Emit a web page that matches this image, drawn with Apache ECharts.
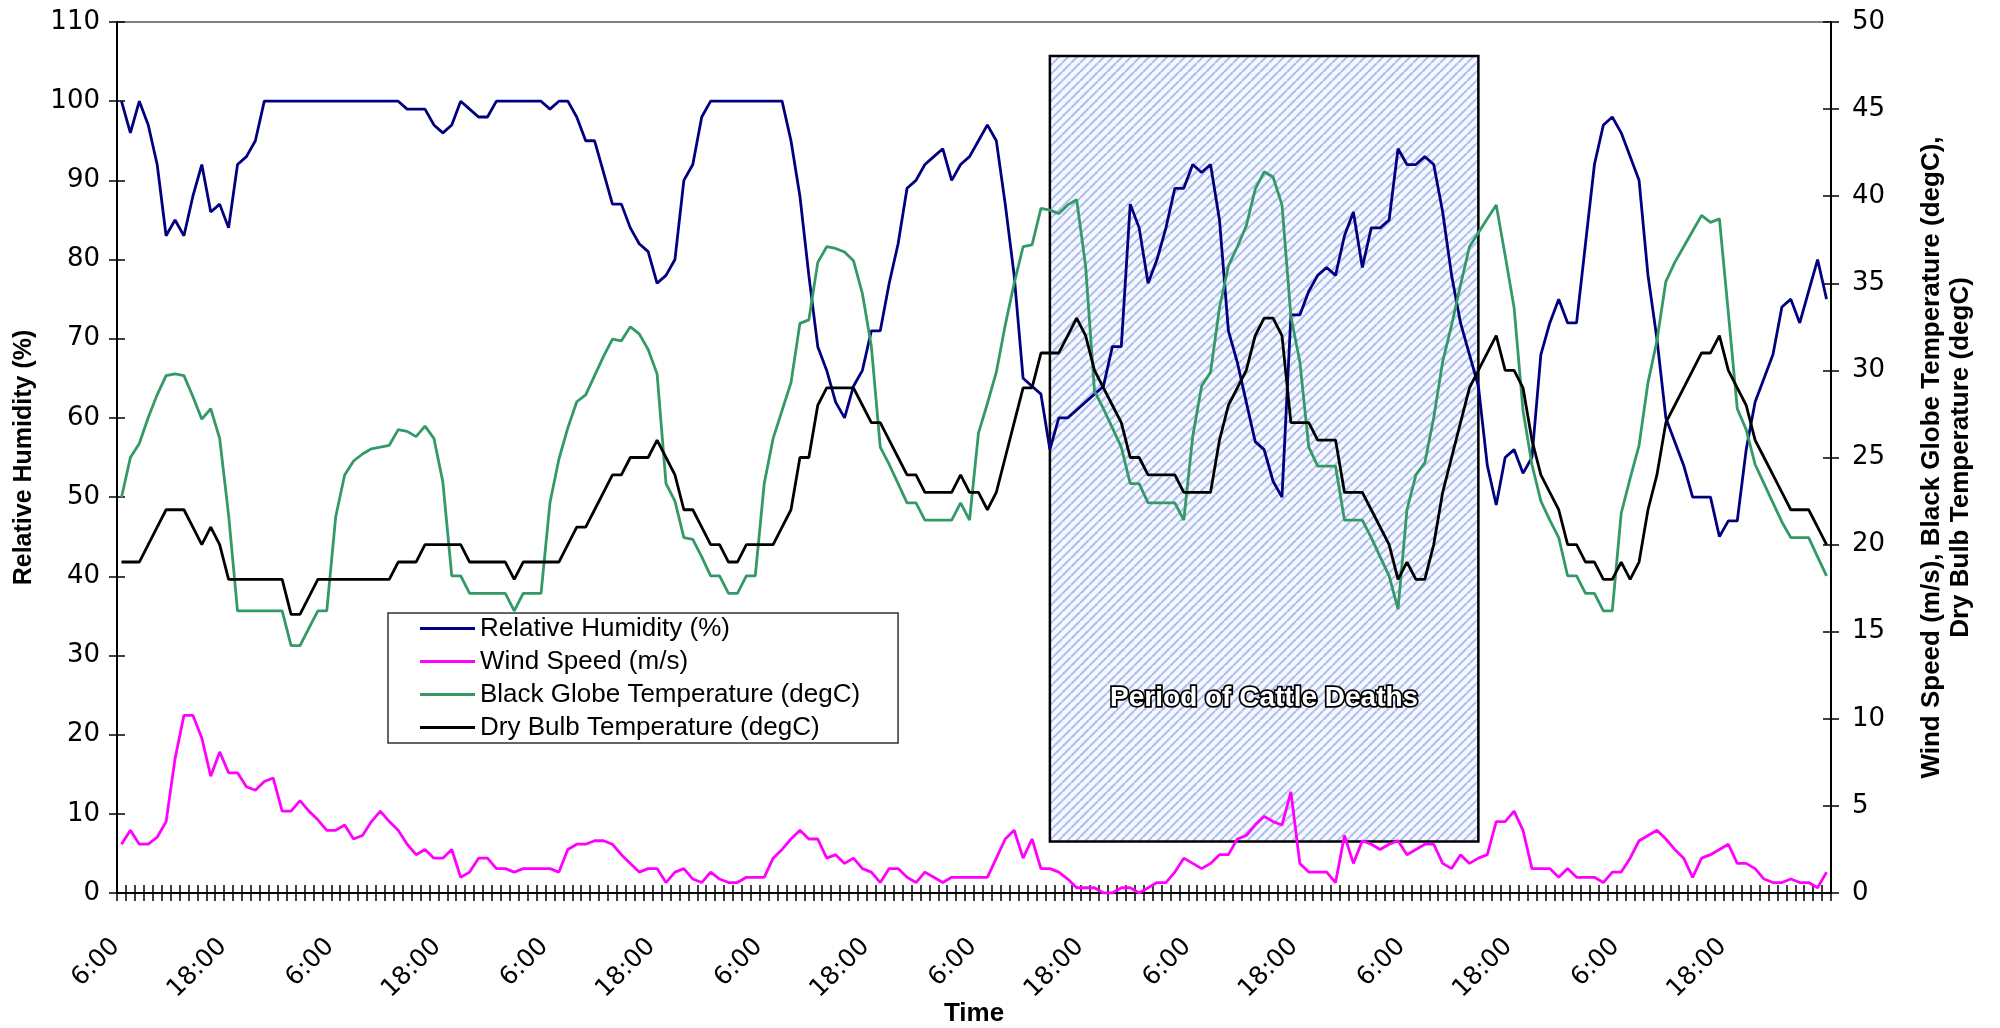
<!DOCTYPE html>
<html>
<head>
<meta charset="utf-8">
<script src="https://cdn.jsdelivr.net/npm/echarts@6/dist/echarts.min.js"></script>
<style>
html,body{margin:0;padding:0;background:#fff;}
#chart{width:2000px;height:1028px;}
</style>
</head>
<body>
<div id="chart"></div>
<script>
// ---- data (hourly readings starting at 6:00) ----
const START_HOUR = 6;
const N_HOURS = 192;
const hours = [];
for (let i = 0; i < N_HOURS; i++) hours.push(((START_HOUR + i) % 24) + ':00');

const relativeHumidity = [
100,96,100,97,92,83,85,83,88,92,86,87,84,92,93,95,100,100,100,100,
100,100,100,100,100,100,100,100,100,100,100,100,99,99,99,97,96,97,100,99,
98,98,100,100,100,100,100,100,99,100,100,98,95,95,91,87,87,84,82,81,
77,78,80,90,92,98,100,100,100,100,100,100,100,100,100,95,88,78,69,66,
62,60,64,66,71,71,77,82,89,90,92,93,94,90,92,93,95,97,95,87,
78,65,64,63,56,60,60,61,62,63,64,69,69,87,84,77,80,84,89,89,
92,91,92,85,71,67,62,57,56,52,50,73,73,76,78,79,78,83,86,79,
84,84,85,94,92,92,93,92,86,78,72,68,64,54,49,55,56,53,55,68,
72,75,72,72,82,92,97,98,96,93,90,78,70,60,57,54,50,50,50,45,
47,47,56,62,65,68,74,75,72,76,80,75];

const windSpeed = [
2.8,3.6,2.8,2.8,3.2,4.1,7.7,10.2,10.2,8.9,6.7,8.1,6.9,6.9,6.1,5.9,6.4,6.6,4.7,4.7,
5.3,4.7,4.2,3.6,3.6,3.9,3.1,3.3,4.1,4.7,4.1,3.6,2.8,2.2,2.5,2.0,2.0,2.5,0.9,1.2,
2.0,2.0,1.4,1.4,1.2,1.4,1.4,1.4,1.4,1.2,2.5,2.8,2.8,3.0,3.0,2.8,2.2,1.7,1.2,1.4,
1.4,0.6,1.2,1.4,0.8,0.6,1.2,0.8,0.6,0.6,0.9,0.9,0.9,2.0,2.5,3.1,3.6,3.1,3.1,2.0,
2.2,1.7,2.0,1.4,1.2,0.6,1.4,1.4,0.9,0.6,1.2,0.9,0.6,0.9,0.9,0.9,0.9,0.9,2.0,3.1,
3.6,2.0,3.1,1.4,1.4,1.2,0.8,0.3,0.3,0.3,0.0,0.0,0.3,0.3,0.0,0.3,0.6,0.6,1.2,2.0,
1.7,1.4,1.7,2.2,2.2,3.1,3.3,3.9,4.4,4.1,3.9,5.8,1.7,1.2,1.2,1.2,0.6,3.3,1.7,3.0,
2.8,2.5,2.8,3.0,2.2,2.5,2.8,2.8,1.7,1.4,2.2,1.7,2.0,2.2,4.1,4.1,4.7,3.6,1.4,1.4,
1.4,0.9,1.4,0.9,0.9,0.9,0.6,1.2,1.2,2.0,3.0,3.3,3.6,3.1,2.5,2.0,0.9,2.0,2.2,2.5,
2.8,1.7,1.7,1.4,0.8,0.6,0.6,0.8,0.6,0.6,0.3,1.2];

const blackGlobeTemp = [
22.7,25.0,25.8,27.3,28.6,29.7,29.8,29.7,28.5,27.2,27.8,26.1,21.7,16.2,16.2,16.2,16.2,16.2,16.2,14.2,
14.2,15.2,16.2,16.2,21.6,24.0,24.8,25.2,25.5,25.6,25.7,26.6,26.5,26.2,26.8,26.1,23.6,18.2,18.2,17.2,
17.2,17.2,17.2,17.2,16.2,17.2,17.2,17.2,22.4,24.9,26.7,28.2,28.6,29.7,30.8,31.8,31.7,32.5,32.1,31.2,
29.8,23.5,22.5,20.4,20.3,19.3,18.2,18.2,17.2,17.2,18.2,18.2,23.5,26.1,27.7,29.3,32.7,32.9,36.2,37.1,
37.0,36.8,36.3,34.4,31.4,25.6,24.6,23.5,22.4,22.4,21.4,21.4,21.4,21.4,22.4,21.4,26.4,28.1,29.9,32.6,
35.0,37.1,37.2,39.3,39.2,39.0,39.5,39.8,36.0,28.8,27.8,26.7,25.6,23.5,23.5,22.4,22.4,22.4,22.4,21.4,
26.2,29.1,29.9,33.6,36.0,37.1,38.3,40.4,41.4,41.1,39.5,33.1,30.5,25.6,24.5,24.5,24.5,21.4,21.4,21.4,
20.4,19.3,18.2,16.3,22.0,24.0,24.7,27.3,30.5,32.6,34.9,37.1,37.9,38.7,39.5,36.6,33.6,27.7,24.6,22.5,
21.4,20.4,18.2,18.2,17.2,17.2,16.2,16.2,21.8,23.8,25.7,29.3,31.7,35.1,36.2,37.1,38.0,38.9,38.5,38.7,
33.3,27.8,26.6,24.6,23.5,22.4,21.3,20.4,20.4,20.4,19.3,18.2];

const dryBulbTemp = [
19,19,19,20,21,22,22,22,21,20,21,20,18,18,18,18,18,18,18,16,
16,17,18,18,18,18,18,18,18,18,18,19,19,19,20,20,20,20,20,19,
19,19,19,19,18,19,19,19,19,19,20,21,21,22,23,24,24,25,25,25,
26,25,24,22,22,21,20,20,19,19,20,20,20,20,21,22,25,25,28,29,
29,29,29,28,27,27,26,25,24,24,23,23,23,23,24,23,23,22,23,25,
27,29,29,31,31,31,32,33,32,30,29,28,27,25,25,24,24,24,24,23,
23,23,23,26,28,29,30,32,33,33,32,27,27,27,26,26,26,23,23,23,
22,21,20,18,19,18,18,20,23,25,27,29,30,31,32,30,30,29,26,24,
23,22,20,20,19,19,18,18,19,18,19,22,24,27,28,29,30,31,31,32,
30,29,28,26,25,24,23,22,22,22,21,20];

const seriesNames = ['Relative Humidity (%)', 'Wind Speed (m/s)', 'Black Globe Temperature (degC)', 'Dry Bulb Temperature (degC)'];
const seriesColors = ['#000080', '#FF00FF', '#339966', '#000000'];
// cattle-death period: category indices and vertical extent on the humidity axis
const deathPeriod = { fromIndex: 104, toIndex: 152, top: 105.7, bottom: 6.5, label: 'Period of Cattle Deaths' };

function hatchPattern() {
  const s = 9;
  const c = document.createElement('canvas');
  c.width = s; c.height = s;
  const g = c.getContext('2d');
  g.fillStyle = '#f6f8fe';
  g.fillRect(0, 0, s, s);
  g.strokeStyle = '#adc0f1';
  g.lineWidth = 2.2;
  g.beginPath();
  for (const o of [-s, 0, s]) { g.moveTo(o, s); g.lineTo(o + s, 0); }
  g.stroke();
  return c;
}

const FONT = 'Liberation Sans, Arial, sans-serif';
const TICK_FONT = 'DejaVu Sans, Verdana, sans-serif';
const chart = echarts.init(document.getElementById('chart'), null, { renderer: 'canvas' });

const tickStyle = { color: '#000', width: 1.5 };
const lineW = 2.8;

const option = {
  animation: false,
  backgroundColor: '#fff',
  textStyle: { fontFamily: FONT },
  grid: {
    left: 117, right: 169, top: 22, bottom: 135,
    containLabel: false, outerBoundsMode: 'none',
    show: true, borderColor: '#808080', borderWidth: 2, backgroundColor: 'transparent'
  },
  legend: {
    left: 388, top: 613, orient: 'vertical',
    backgroundColor: '#fff', borderColor: '#333', borderWidth: 1.5,
    padding: [0, 38, 0, 32],
    icon: 'rect',
    itemWidth: 55, itemHeight: 3, itemGap: 2, itemTextGap: 6,
    textStyle: { fontFamily: FONT, fontSize: 26, color: '#000', lineHeight: 31 },
    data: seriesNames
  },
  xAxis: [
    {
      type: 'category', data: hours, boundaryGap: true, position: 'bottom',
      axisLine: { onZero: false, lineStyle: { color: '#000', width: 2 } },
      axisTick: { show: true, interval: 0, inside: false, length: 8, lineStyle: tickStyle },
      axisLabel: { interval: 11, rotate: 45, fontSize: 25, margin: 44, padding: [0, 8, 0, 0], color: '#000', fontFamily: TICK_FONT },
      splitLine: { show: false },
      name: 'Time', nameLocation: 'middle', nameGap: 108, nameMoveOverlap: false,
      nameTextStyle: { fontSize: 26, fontWeight: 'bold', color: '#000', fontFamily: FONT }
    },
    {
      type: 'category', data: hours, boundaryGap: true, position: 'bottom',
      axisLine: { show: false, onZero: false },
      axisTick: { show: true, interval: 0, inside: true, length: 8, lineStyle: tickStyle },
      axisLabel: { show: false }, splitLine: { show: false }
    }
  ],
  yAxis: [
    {
      type: 'value', min: 0, max: 110, interval: 10, position: 'left',
      axisLine: { show: true, lineStyle: { color: '#000', width: 2 } },
      axisTick: { show: true, inside: false, length: 8, lineStyle: tickStyle },
      axisLabel: { fontSize: 26, margin: 17, color: '#000', fontFamily: TICK_FONT },
      splitLine: { show: false },
      name: 'Relative Humidity (%)', nameLocation: 'middle', nameGap: 80, nameMoveOverlap: false,
      nameTextStyle: { fontSize: 25, fontWeight: 'bold', color: '#000', fontFamily: FONT }
    },
    {
      type: 'value', min: 0, max: 50, interval: 5, position: 'right',
      axisLine: { show: true, lineStyle: { color: '#000', width: 2 } },
      axisTick: { show: true, inside: false, length: 8, lineStyle: tickStyle },
      axisLabel: { fontSize: 26, margin: 21, color: '#000', fontFamily: TICK_FONT },
      splitLine: { show: false },
      name: 'Wind Speed (m/s), Black Globe Temperature (degC),\nDry Bulb Temperature (degC)',
      nameLocation: 'middle', nameGap: 86, nameMoveOverlap: false,
      nameTextStyle: { fontSize: 26, fontWeight: 'bold', color: '#000', fontFamily: FONT, lineHeight: 29, align: 'center' }
    },
    {
      type: 'value', min: 0, max: 110, interval: 10, position: 'left',
      axisLine: { show: false }, axisLabel: { show: false }, splitLine: { show: false },
      axisTick: { show: true, inside: true, length: 8, lineStyle: tickStyle }
    },
    {
      type: 'value', min: 0, max: 50, interval: 5, position: 'right',
      axisLine: { show: false }, axisLabel: { show: false }, splitLine: { show: false },
      axisTick: { show: true, inside: true, length: 8, lineStyle: tickStyle }
    }
  ],
  series: [
    {
      name: seriesNames[0], type: 'line', yAxisIndex: 0, data: relativeHumidity,
      symbol: 'none', lineStyle: { color: seriesColors[0], width: lineW }, itemStyle: { color: seriesColors[0] },
      z: 5,
      markArea: {
        silent: true,
        z: 1,
        itemStyle: { color: { image: hatchPattern(), repeat: 'repeat' }, borderColor: '#000', borderWidth: 2.5 },
        label: {
          show: true, position: ['50%', '81.6%'], align: 'center', verticalAlign: 'middle',
          formatter: deathPeriod.label,
          color: '#fff', fontSize: 28, fontWeight: 'bold',
          fontFamily: FONT,
          textBorderColor: '#000', textBorderWidth: 3.5
        },
        data: [[
          { xAxis: deathPeriod.fromIndex, yAxis: deathPeriod.top },
          { xAxis: deathPeriod.toIndex, yAxis: deathPeriod.bottom }
        ]]
      }
    },
    {
      name: seriesNames[1], type: 'line', yAxisIndex: 1, data: windSpeed,
      symbol: 'none', lineStyle: { color: seriesColors[1], width: lineW }, itemStyle: { color: seriesColors[1] }, z: 5
    },
    {
      name: seriesNames[2], type: 'line', yAxisIndex: 1, data: blackGlobeTemp,
      symbol: 'none', lineStyle: { color: seriesColors[2], width: lineW }, itemStyle: { color: seriesColors[2] }, z: 5
    },
    {
      name: seriesNames[3], type: 'line', yAxisIndex: 1, data: dryBulbTemp,
      symbol: 'none', lineStyle: { color: seriesColors[3], width: lineW }, itemStyle: { color: seriesColors[3] }, z: 5
    }
  ]
};
chart.setOption(option);
</script>
</body>
</html>
